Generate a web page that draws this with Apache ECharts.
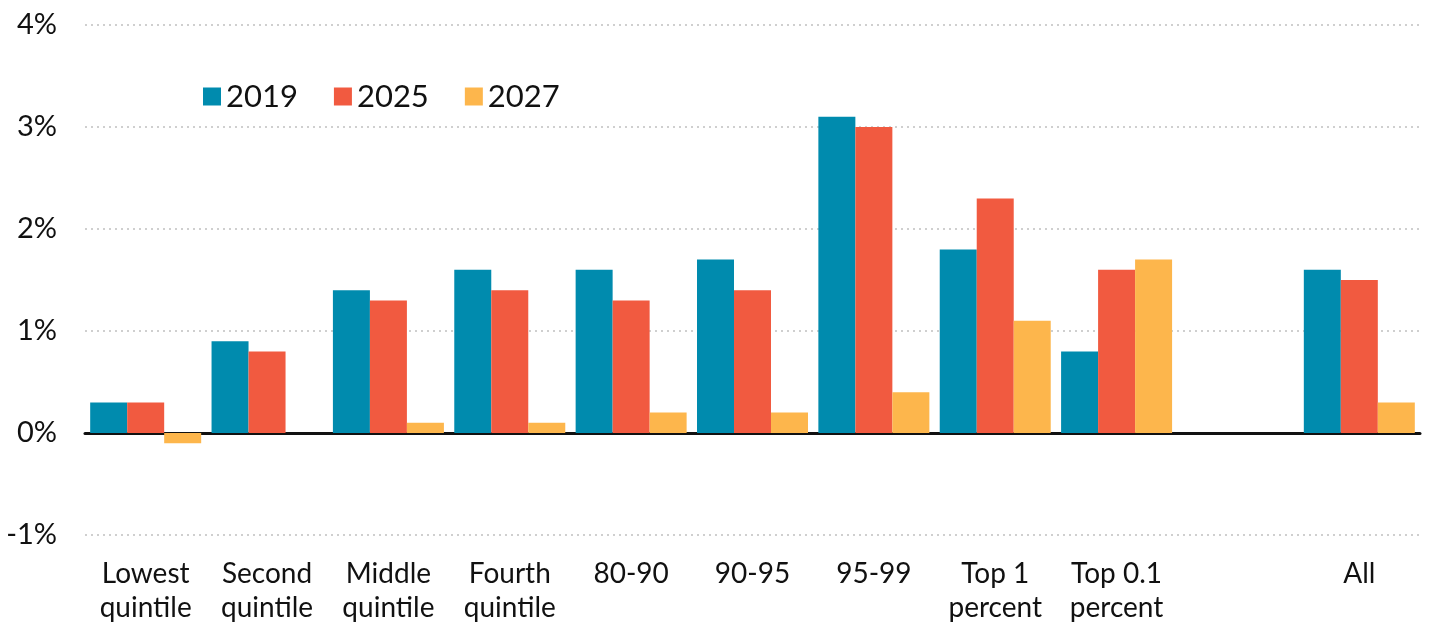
<!DOCTYPE html>
<html>
<head>
<meta charset="UTF-8"/>
<title></title>
<script src="https://cdn.jsdelivr.net/npm/echarts@6/dist/echarts.min.js" type="text/javascript"></script>
<style>
html,body{margin:0;padding:0;background:#fff;}
#placeholder{width:1430px;height:625px;}
</style>
</head>
<body>
<div id="placeholder"></div>
<script type="text/javascript">
var categories = ['Lowest\nquintile', 'Second\nquintile', 'Middle\nquintile', 'Fourth\nquintile',
    '80-90', '90-95', '95-99', 'Top 1\npercent', 'Top 0.1\npercent', '', 'All'];
var values2019 = [0.3, 0.9, 1.4, 1.6, 1.6, 1.7, 3.1, 1.8, 0.8, null, 1.6];
var values2025 = [0.3, 0.8, 1.3, 1.4, 1.3, 1.4, 3.0, 2.3, 1.6, null, 1.5];
var values2027 = [-0.1, 0, 0.1, 0.1, 0.2, 0.2, 0.4, 1.1, 1.7, null, 0.3];

var font = 'Lato, "Noto Sans", sans-serif';
var myChart = echarts.init(document.getElementById('placeholder'));
var option = {
    animation: false,
    textStyle: { fontFamily: font },
    legend: {
        left: 198,
        top: 76,
        itemWidth: 18,
        itemHeight: 18,
        itemGap: 36,
        icon: 'rect',
        textStyle: { fontSize: 31, color: '#111', fontFamily: font },
        data: ['2019', '2025', '2027']
    },
    grid: { left: 85, right: 10, top: 25, bottom: 86, containLabel: false },
    xAxis: {
        type: 'category',
        data: categories,
        axisLine: { onZero: true, lineStyle: { color: '#111', width: 3 } },
        axisTick: { show: false },
        axisLabel: {
            interval: 0,
            margin: 22,
            fontSize: 28,
            lineHeight: 34,
            color: '#111',
            fontFamily: font
        }
    },
    yAxis: {
        type: 'value',
        min: -1,
        max: 4,
        interval: 1,
        axisLine: { show: false },
        axisTick: { show: false },
        axisLabel: {
            formatter: '{value}%',
            margin: 28,
            fontSize: 29,
            color: '#111',
            fontFamily: font
        },
        splitLine: { lineStyle: { color: '#cfcfcf', width: 2, type: [2, 4] } }
    },
    series: [
        { name: '2019', type: 'bar', data: values2019, barWidth: 37, barGap: '0%',
          itemStyle: { color: '#008bae' } },
        { name: '2025', type: 'bar', data: values2025, barWidth: 37, barGap: '0%',
          itemStyle: { color: '#f15a40' } },
        { name: '2027', type: 'bar', data: values2027, barWidth: 37, barGap: '0%',
          itemStyle: { color: '#fdb64c' } }
    ]
};
myChart.setOption(option, true);
</script>
</body>
</html>
